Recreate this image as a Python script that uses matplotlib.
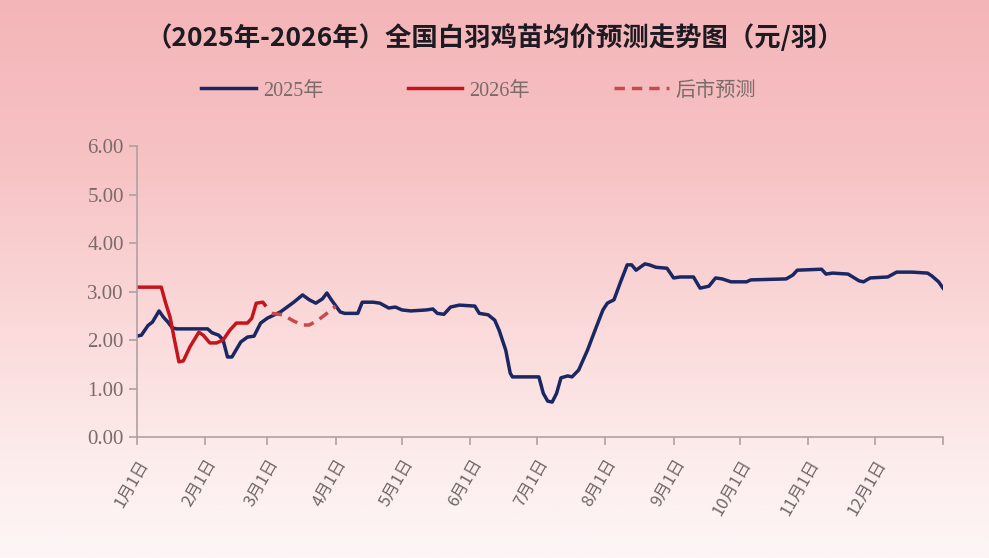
import matplotlib
matplotlib.use('Agg')
import matplotlib.pyplot as plt
import numpy as np
from matplotlib.colors import LinearSegmentedColormap

# day-of-year (0 = 1月1日) and price (元/羽)
days_2025 = [0, 2, 5, 7, 10, 12, 14, 16, 18, 32, 34, 37, 39, 41, 43, 47, 50, 53, 56, 59,
             65, 71, 75, 78, 81, 84, 86, 88, 92, 94, 100, 102, 107, 110, 114, 117, 120, 124,
             131, 134, 136, 139, 142, 146, 153, 155, 159, 162, 164, 167, 169, 170, 182, 184,
             186, 188, 190, 192, 195, 197, 200, 204, 208, 211, 213, 216, 219, 222, 224, 226,
             230, 232, 235, 240, 243, 246, 252, 255, 259, 262, 265, 269, 276, 278, 294, 297,
             299, 310, 312, 315, 322, 327, 329, 332, 340, 344, 351, 358, 360, 363, 365]
price_2025 = [2.08, 2.10, 2.30, 2.37, 2.60, 2.47, 2.37, 2.25, 2.23, 2.23, 2.15, 2.10, 2.00,
              1.65, 1.65, 1.96, 2.06, 2.08, 2.35, 2.45, 2.58, 2.78, 2.93, 2.83, 2.76, 2.85,
              2.97, 2.83, 2.58, 2.55, 2.55, 2.78, 2.78, 2.76, 2.66, 2.68, 2.62, 2.60, 2.62,
              2.64, 2.55, 2.53, 2.68, 2.72, 2.70, 2.55, 2.52, 2.41, 2.20, 1.79, 1.32, 1.24,
              1.24, 0.90, 0.74, 0.72, 0.90, 1.22, 1.26, 1.24, 1.38, 1.79, 2.27, 2.62, 2.76,
              2.83, 3.20, 3.55, 3.55, 3.44, 3.57, 3.55, 3.50, 3.48, 3.28, 3.30, 3.30, 3.07,
              3.11, 3.28, 3.26, 3.20, 3.20, 3.24, 3.26, 3.34, 3.44, 3.46, 3.36, 3.38, 3.36,
              3.22, 3.20, 3.28, 3.30, 3.40, 3.40, 3.38, 3.32, 3.20, 3.07]

days_2026 = [0, 11, 13, 15, 17, 19, 21, 24, 28, 30, 33, 36, 39, 42, 45, 50, 52, 54, 57, 58]
price_2026 = [3.09, 3.09, 2.76, 2.47, 2.00, 1.55, 1.57, 1.86, 2.16, 2.10, 1.94, 1.94, 2.00,
              2.20, 2.35, 2.35, 2.45, 2.76, 2.78, 2.72]

days_fc = [61, 66, 71, 75, 78, 82, 86, 90]
price_fc = [2.55, 2.52, 2.39, 2.31, 2.31, 2.41, 2.55, 2.70]

month_days = [0, 31, 59, 90, 120, 151, 181, 212, 243, 273, 304, 334, 365]
month_labels = ['1月1日', '2月1日', '3月1日', '4月1日', '5月1日', '6月1日', '7月1日',
                '8月1日', '9月1日', '10月1日', '11月1日', '12月1日', '']

plt.rcParams['font.family'] = ['Noto Sans CJK SC', 'DejaVu Sans']

fig = plt.figure(figsize=(9.89, 5.58), dpi=100)

# background gradient
bg = fig.add_axes([0, 0, 1, 1], zorder=-10)
cmap = LinearSegmentedColormap.from_list('bg', [(0, '#f4b5b8'), (0.3, '#f7c3c5'),
                                                (0.6, '#fbdbdb'), (0.85, '#fdeeee'),
                                                (1, '#fdf6f6')])
bg.imshow(np.linspace(0, 1, 256).reshape(-1, 1), aspect='auto', cmap=cmap,
          extent=[0, 1, 0, 1])
bg.axis('off')

ax = fig.add_axes([0.1385, 0.2168, 0.815, 0.5215])
ax.patch.set_alpha(0)

navy = '#1b2763'
red = '#c4141c'
ax.plot(days_2025, price_2025, color=navy, lw=2.5, solid_joinstyle='round', label='2025年')
ax.plot(days_2026, price_2026, color=red, lw=2.5, solid_joinstyle='round', label='2026年')
ax.plot(days_fc, price_fc, color='#c94a4c', lw=2.5, dashes=(3, 0.6), label='后市预测')

ax.set_xlim(0, 365)
ax.set_ylim(0, 6)
ax.set_yticks(np.arange(0, 6.01, 1))
ax.set_yticklabels(['%.2f' % v for v in np.arange(0, 6.01, 1)],
                   family='Liberation Serif', fontsize=15, color='#7a6a6a')
ax.set_xticks(month_days)
ax.set_xticklabels(month_labels, rotation=60, ha='right', va='top',
                   rotation_mode='anchor', fontsize=12, color='#6e6666')

for s in ['top', 'right']:
    ax.spines[s].set_visible(False)
for s in ['left', 'bottom']:
    ax.spines[s].set_color('#b0a0a2')
    ax.spines[s].set_linewidth(1.2)
ax.tick_params(axis='both', color='#b0a0a2', width=1.2, length=6)
ax.tick_params(axis='x', pad=8)

fig.text(0.50, 0.932, '（2025年-2026年）全国白羽鸡苗均价预测走势图（元/羽）',
         ha='center', va='center', fontsize=19, fontweight='bold', color='#1e1a22')

h, l = ax.get_legend_handles_labels()
h[2].set_dashes((3, 2))
leg = fig.legend(h, l, loc='center', bbox_to_anchor=(0.484, 0.837), ncol=3, frameon=False,
                 handlelength=2.7, handletextpad=0.35, columnspacing=4.2,
                 prop={'family': ['Liberation Serif', 'Noto Sans CJK SC'], 'size': 14.5})
for t in leg.get_texts():
    t.set_color('#7a6a6a')

fig.savefig('out.png', dpi=100)
